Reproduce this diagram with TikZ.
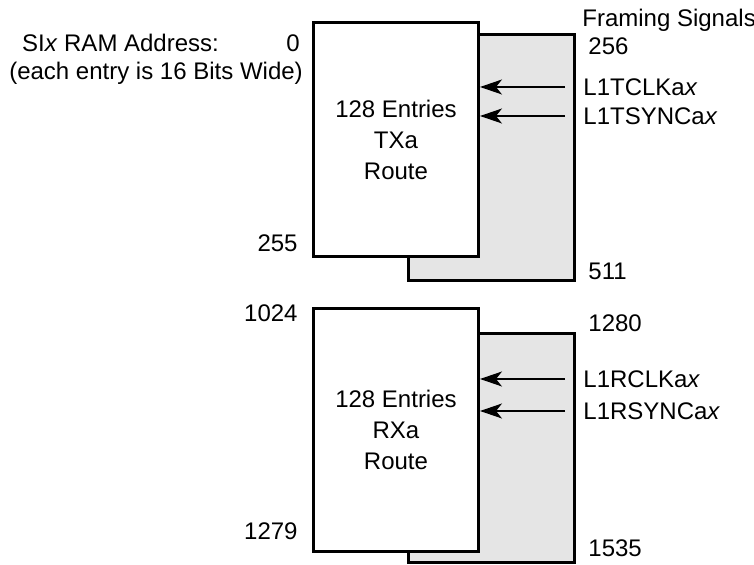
\documentclass[tikz,border=0pt]{standalone}
\usepackage{fontspec}
\setmainfont{Liberation Sans}
\usetikzlibrary{arrows.meta}
\begin{document}
\begin{tikzpicture}[x=0.5pt,y=-0.5pt,
  font=\fontsize{12}{15.5}\selectfont,
  ram/.style={draw,line width=1.4pt,fill=white,inner sep=0pt,align=center},
  framebox/.style={draw,line width=1.4pt,fill=gray!20,inner sep=0pt},
  lbl/.style={inner sep=0pt},
  arr/.style={-{Stealth[length=11pt,width=7.5pt,inset=3pt]},line width=0.6pt}
]
\useasboundingbox (0,0) rectangle (754,565);

% transmit section
\node[framebox,minimum width=83pt,minimum height=123pt] (txf) at (491.5,157.5) {};
\node[ram,minimum width=82.6pt,minimum height=117pt] (tx) at (396,139.5)
  {128 Entries\\TXa\\Route};

% receive section
\node[framebox,minimum width=83pt,minimum height=114.5pt] (rxf) at (491.5,448) {};
\node[ram,minimum width=82.6pt,minimum height=121.5pt] (rx) at (396,430)
  {128 Entries\\RXa\\Route};

% address labels
\node[lbl,anchor=base] (title) at (120.5,52) {SI\textit{x} RAM Address:};
\node[lbl,anchor=base] (width) at (156,80) {(each entry is 16 Bits Wide)};
\node[lbl,anchor=base east] (a0) at (300,52) {0};
\node[lbl,anchor=base east] (a255) at (298,252) {255};
\node[lbl,anchor=base east] (a1024) at (298,322) {1024};
\node[lbl,anchor=base east] (a1279) at (298,540) {1279};

% framing labels
\node[lbl,anchor=base west] (fs) at (582,27) {Framing Signals};
\node[lbl,anchor=base west] (a256) at (588,55) {256};
\node[lbl,anchor=base west] (a511) at (588,280) {511};
\node[lbl,anchor=base west] (a1280) at (588,332) {1280};
\node[lbl,anchor=base west] (a1535) at (588,557) {1535};

\node[lbl,anchor=west] (tclk) at (583,87) {L1TCLKa\textit{x}};
\node[lbl,anchor=west] (tsync) at (583,116) {L1TSYNCa\textit{x}};
\node[lbl,anchor=west] (rclk) at (583,379) {L1RCLKa\textit{x}};
\node[lbl,anchor=west] (rsync) at (583,411) {L1RSYNCa\textit{x}};

\draw[arr] ([xshift=-9pt]tclk.west) -- (tclk.west -| tx.east);
\draw[arr] ([xshift=-9pt]tsync.west) -- (tsync.west -| tx.east);
\draw[arr] ([xshift=-9pt]rclk.west) -- (rclk.west -| rx.east);
\draw[arr] ([xshift=-9pt]rsync.west) -- (rsync.west -| rx.east);
\end{tikzpicture}
\end{document}
